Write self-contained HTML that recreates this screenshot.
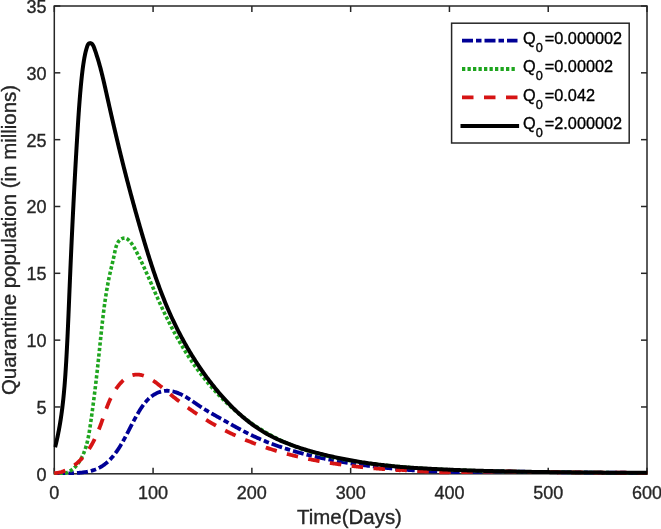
<!DOCTYPE html>
<html><head><meta charset="utf-8"><style>
html,body{margin:0;padding:0;background:#fff;}
svg{display:block;font-family:"Liberation Sans",sans-serif;will-change:transform;}
</style></head><body>
<svg width="661" height="529" viewBox="0 0 661 529">
<rect width="661" height="529" fill="#fff"/>
<clipPath id="clip"><rect x="53.55" y="0" width="594.2" height="475.05"/></clipPath>
<g stroke="#262626" stroke-width="1.5" fill="none">
<rect x="54.3" y="6.0" width="592.70" height="467.80"/>
<line x1="54.30" y1="473.8" x2="54.30" y2="467.8"/>
<line x1="54.30" y1="6.0" x2="54.30" y2="12.0"/>
<line x1="153.08" y1="473.8" x2="153.08" y2="467.8"/>
<line x1="153.08" y1="6.0" x2="153.08" y2="12.0"/>
<line x1="251.87" y1="473.8" x2="251.87" y2="467.8"/>
<line x1="251.87" y1="6.0" x2="251.87" y2="12.0"/>
<line x1="350.65" y1="473.8" x2="350.65" y2="467.8"/>
<line x1="350.65" y1="6.0" x2="350.65" y2="12.0"/>
<line x1="449.43" y1="473.8" x2="449.43" y2="467.8"/>
<line x1="449.43" y1="6.0" x2="449.43" y2="12.0"/>
<line x1="548.22" y1="473.8" x2="548.22" y2="467.8"/>
<line x1="548.22" y1="6.0" x2="548.22" y2="12.0"/>
<line x1="647.00" y1="473.8" x2="647.00" y2="467.8"/>
<line x1="647.00" y1="6.0" x2="647.00" y2="12.0"/>
<line x1="54.3" y1="473.80" x2="60.3" y2="473.80"/>
<line x1="647.0" y1="473.80" x2="641.0" y2="473.80"/>
<line x1="54.3" y1="406.97" x2="60.3" y2="406.97"/>
<line x1="647.0" y1="406.97" x2="641.0" y2="406.97"/>
<line x1="54.3" y1="340.14" x2="60.3" y2="340.14"/>
<line x1="647.0" y1="340.14" x2="641.0" y2="340.14"/>
<line x1="54.3" y1="273.31" x2="60.3" y2="273.31"/>
<line x1="647.0" y1="273.31" x2="641.0" y2="273.31"/>
<line x1="54.3" y1="206.49" x2="60.3" y2="206.49"/>
<line x1="647.0" y1="206.49" x2="641.0" y2="206.49"/>
<line x1="54.3" y1="139.66" x2="60.3" y2="139.66"/>
<line x1="647.0" y1="139.66" x2="641.0" y2="139.66"/>
<line x1="54.3" y1="72.83" x2="60.3" y2="72.83"/>
<line x1="647.0" y1="72.83" x2="641.0" y2="72.83"/>
<line x1="54.3" y1="6.00" x2="60.3" y2="6.00"/>
<line x1="647.0" y1="6.00" x2="641.0" y2="6.00"/>
</g>
<g clip-path="url(#clip)">
<path d="M54.48,473.84 L55.11,473.79 L55.74,473.75 L56.39,473.71 L57.04,473.67 L57.70,473.64 L58.37,473.61 L59.05,473.58 L59.73,473.56 L60.41,473.53 L61.11,473.51 L61.81,473.49 L62.51,473.47 L63.22,473.46 L63.93,473.44 L64.65,473.42 L65.38,473.41 L66.10,473.39 L66.83,473.37 L67.57,473.35 L68.31,473.34 L69.05,473.32 L69.79,473.29 L70.54,473.27 L71.29,473.24 L72.04,473.22 L72.79,473.19 L73.54,473.15 L74.30,473.12 L75.05,473.08 L75.81,473.03 L76.56,472.99 L77.32,472.94 L78.07,472.88 L78.83,472.82 L79.58,472.75 L80.34,472.68 L81.09,472.60 L81.84,472.52 L82.59,472.43 L83.33,472.34 L84.08,472.24 L84.82,472.13 L85.55,472.01 L86.29,471.89 L87.02,471.76 L87.75,471.62 L88.47,471.47 L89.19,471.31 L89.90,471.15 L90.61,470.98 L91.32,470.79 L92.01,470.60 L92.71,470.40 L93.39,470.18 L94.07,469.96 L94.75,469.72 L95.41,469.48 L96.07,469.22 L96.73,468.95 L97.37,468.67 L98.01,468.38 L98.64,468.08 L99.26,467.76 L99.87,467.44 L100.48,467.10 L101.08,466.75 L101.67,466.39 L102.26,466.02 L102.83,465.64 L103.40,465.25 L103.97,464.85 L104.53,464.44 L105.08,464.02 L105.62,463.59 L106.16,463.16 L106.69,462.71 L107.22,462.26 L107.74,461.79 L108.25,461.32 L108.76,460.84 L109.26,460.35 L109.75,459.86 L110.24,459.35 L110.73,458.84 L111.21,458.32 L111.68,457.80 L112.15,457.27 L112.61,456.73 L113.07,456.19 L113.52,455.64 L113.97,455.08 L114.41,454.52 L114.85,453.95 L115.28,453.38 L115.71,452.80 L116.13,452.22 L116.55,451.63 L116.97,451.04 L117.38,450.44 L117.78,449.84 L118.19,449.23 L118.59,448.63 L118.98,448.01 L119.37,447.40 L119.76,446.78 L120.14,446.16 L120.53,445.54 L120.90,444.91 L121.28,444.28 L121.65,443.65 L122.02,443.02 L122.38,442.38 L122.74,441.75 L123.10,441.11 L123.46,440.47 L123.81,439.83 L124.16,439.19 L124.51,438.55 L124.86,437.91 L125.20,437.26 L125.54,436.62 L125.88,435.98 L126.22,435.34 L126.56,434.70 L126.89,434.06 L127.22,433.42 L127.55,432.79 L127.88,432.15 L128.21,431.52 L128.54,430.88 L128.86,430.25 L129.19,429.62 L129.52,428.99 L129.84,428.36 L130.16,427.73 L130.49,427.10 L130.81,426.47 L131.14,425.84 L131.46,425.22 L131.79,424.59 L132.11,423.96 L132.44,423.34 L132.77,422.71 L133.10,422.09 L133.43,421.46 L133.77,420.83 L134.10,420.21 L134.44,419.58 L134.78,418.95 L135.12,418.33 L135.46,417.70 L135.81,417.07 L136.16,416.44 L136.52,415.81 L136.87,415.18 L137.23,414.55 L137.60,413.92 L137.96,413.28 L138.34,412.65 L138.71,412.01 L139.09,411.38 L139.48,410.75 L139.87,410.11 L140.26,409.48 L140.66,408.85 L141.07,408.22 L141.48,407.60 L141.90,406.98 L142.32,406.36 L142.75,405.75 L143.19,405.14 L143.63,404.54 L144.08,403.95 L144.54,403.36 L145.01,402.78 L145.48,402.21 L145.96,401.64 L146.45,401.09 L146.95,400.54 L147.45,400.00 L147.97,399.48 L148.49,398.96 L149.03,398.46 L149.57,397.96 L150.12,397.48 L150.68,397.02 L151.25,396.56 L151.83,396.12 L152.43,395.70 L153.03,395.29 L153.64,394.89 L154.25,394.51 L154.88,394.14 L155.51,393.80 L156.15,393.46 L156.80,393.15 L157.45,392.85 L158.11,392.57 L158.78,392.31 L159.45,392.07 L160.13,391.85 L160.81,391.64 L161.49,391.46 L162.18,391.30 L162.87,391.16 L163.57,391.03 L164.27,390.94 L164.97,390.86 L165.67,390.80 L166.37,390.77 L167.08,390.76 L167.78,390.77 L168.49,390.81 L169.20,390.86 L169.90,390.93 L170.61,391.03 L171.31,391.14 L172.01,391.27 L172.71,391.41 L173.40,391.58 L174.10,391.75 L174.79,391.95 L175.47,392.16 L176.15,392.38 L176.83,392.61 L177.51,392.86 L178.19,393.13 L178.86,393.40 L179.52,393.69 L180.19,393.99 L180.85,394.29 L181.51,394.61 L182.17,394.94 L182.82,395.28 L183.48,395.63 L184.13,395.98 L184.77,396.35 L185.42,396.72 L186.06,397.10 L186.70,397.48 L187.34,397.87 L187.98,398.27 L188.62,398.67 L189.25,399.08 L189.88,399.49 L190.51,399.90 L191.14,400.32 L191.77,400.74 L192.39,401.16 L193.01,401.59 L193.64,402.01 L194.26,402.44 L194.88,402.87 L195.50,403.30 L196.11,403.72 L196.73,404.15 L197.34,404.57 L197.96,404.99 L198.57,405.41 L199.19,405.83 L199.80,406.24 L200.41,406.65 L201.02,407.05 L201.63,407.45 L202.24,407.85 L202.85,408.24 L203.46,408.62 L204.07,409.01 L204.68,409.38 L205.28,409.75 L205.89,410.12 L206.50,410.49 L207.11,410.85 L207.72,411.21 L208.32,411.57 L208.93,411.92 L209.54,412.27 L210.15,412.62 L210.75,412.97 L211.36,413.32 L211.97,413.66 L212.58,414.00 L213.19,414.35 L213.80,414.69 L214.41,415.03 L215.02,415.37 L215.63,415.71 L216.24,416.05 L216.85,416.39 L217.46,416.73 L218.07,417.07 L218.69,417.41 L219.30,417.75 L219.92,418.09 L220.53,418.44 L221.15,418.78 L221.77,419.13 L222.38,419.48 L223.00,419.83 L223.62,420.18 L224.24,420.53 L224.86,420.88 L225.48,421.23 L226.11,421.58 L226.73,421.93 L227.35,422.29 L227.98,422.64 L228.61,422.99 L229.23,423.35 L229.86,423.70 L230.49,424.05 L231.11,424.41 L231.74,424.76 L232.37,425.11 L233.01,425.47 L233.64,425.82 L234.27,426.17 L234.90,426.52 L235.54,426.87 L236.17,427.22 L236.81,427.57 L237.44,427.92 L238.08,428.27 L238.72,428.61 L239.36,428.96 L240.00,429.30 L240.64,429.65 L241.28,429.99 L241.92,430.33 L242.56,430.67 L243.21,431.01 L243.85,431.35 L244.50,431.68 L245.14,432.01 L245.79,432.35 L246.44,432.68 L247.09,433.00 L247.73,433.33 L248.38,433.66 L249.04,433.98 L249.69,434.30 L250.34,434.62 L250.99,434.93 L251.65,435.24 L252.30,435.56 L252.96,435.87 L253.61,436.17 L254.27,436.48 L254.93,436.78 L255.59,437.08 L256.25,437.38 L256.91,437.68 L257.57,437.98 L258.23,438.27 L258.89,438.56 L259.55,438.85 L260.22,439.14 L260.88,439.43 L261.55,439.71 L262.21,439.99 L262.88,440.27 L263.55,440.55 L264.21,440.82 L264.88,441.10 L265.55,441.37 L266.22,441.64 L266.89,441.91 L267.56,442.18 L268.23,442.44 L268.91,442.71 L269.58,442.97 L270.25,443.23 L270.93,443.48 L271.60,443.74 L272.28,443.99 L272.96,444.25 L273.63,444.50 L274.31,444.75 L274.99,444.99 L275.67,445.24 L276.35,445.48 L277.03,445.72 L277.71,445.96 L278.39,446.20 L279.07,446.44 L279.75,446.67 L280.43,446.91 L281.12,447.14 L281.80,447.37 L282.49,447.60 L283.17,447.82 L283.86,448.05 L284.54,448.27 L285.23,448.49 L285.92,448.71 L286.60,448.93 L287.29,449.15 L287.98,449.36 L288.67,449.58 L289.36,449.79 L290.05,450.00 L290.74,450.21 L291.43,450.42 L292.12,450.63 L292.81,450.83 L293.51,451.03 L294.20,451.23 L294.89,451.43 L295.59,451.63 L296.28,451.83 L296.98,452.03 L297.67,452.22 L298.37,452.41 L299.06,452.61 L299.76,452.80 L300.46,452.98 L301.15,453.17 L301.85,453.36 L302.55,453.54 L303.25,453.72 L303.94,453.91 L304.64,454.09 L305.34,454.27 L306.04,454.44 L306.74,454.62 L307.44,454.79 L308.14,454.97 L308.85,455.14 L309.55,455.31 L310.25,455.48 L310.95,455.65 L311.65,455.82 L312.36,455.98 L313.06,456.15 L313.76,456.31 L314.47,456.47 L315.17,456.64 L315.88,456.80 L316.58,456.95 L317.29,457.11 L317.99,457.27 L318.70,457.42 L319.40,457.58 L320.11,457.73 L320.81,457.88 L321.52,458.03 L322.23,458.18 L322.94,458.33 L323.64,458.48 L324.35,458.62 L325.06,458.77 L325.77,458.91 L326.47,459.05 L327.18,459.20 L327.89,459.34 L328.60,459.48 L329.31,459.62 L330.02,459.75 L330.73,459.89 L331.44,460.02 L332.15,460.16 L332.86,460.29 L333.57,460.43 L334.28,460.56 L334.99,460.69 L335.70,460.82 L336.41,460.95 L337.12,461.07 L337.83,461.20 L338.54,461.33 L339.25,461.45 L339.96,461.58 L340.67,461.70 L341.39,461.82 L342.10,461.94 L342.81,462.06 L343.52,462.18 L344.23,462.30 L344.94,462.42 L345.66,462.54 L346.37,462.65 L347.08,462.77 L347.79,462.88 L348.50,463.00 L349.22,463.11 L349.93,463.22 L350.64,463.34 L351.35,463.45 L352.07,463.56 L352.78,463.66 L353.49,463.77 L354.21,463.88 L354.92,463.99 L355.63,464.09 L356.35,464.20 L357.06,464.30 L357.77,464.40 L358.49,464.51 L359.20,464.61 L359.91,464.71 L360.63,464.81 L361.34,464.91 L362.06,465.01 L362.77,465.10 L363.48,465.20 L364.20,465.30 L364.91,465.39 L365.63,465.49 L366.34,465.58 L367.06,465.68 L367.77,465.77 L368.48,465.86 L369.20,465.95 L369.91,466.04 L370.63,466.13 L371.34,466.22 L372.06,466.31 L372.77,466.39 L373.49,466.48 L374.20,466.57 L374.92,466.65 L375.64,466.73 L376.35,466.82 L377.07,466.90 L377.78,466.98 L378.50,467.06 L379.21,467.15 L379.93,467.23 L380.65,467.30 L381.36,467.38 L382.08,467.46 L382.79,467.54 L383.51,467.62 L384.23,467.69 L384.94,467.77 L385.66,467.84 L386.37,467.91 L387.09,467.99 L387.81,468.06 L388.52,468.13 L389.24,468.20 L389.96,468.27 L390.68,468.35 L391.39,468.43 L392.11,468.52 L392.83,468.61 L393.54,468.69 L394.26,468.77 L394.98,468.85 L395.70,468.93 L396.41,469.01 L397.13,469.09 L397.85,469.17 L398.57,469.24 L399.28,469.31 L400.00,469.39 L400.72,469.45 L401.44,469.51 L402.15,469.56 L402.87,469.61 L403.59,469.67 L404.31,469.72 L405.03,469.77 L405.74,469.82 L406.46,469.87 L407.18,469.92 L407.90,469.97 L408.62,470.01 L409.34,470.06 L410.05,470.11 L410.77,470.15 L411.49,470.20 L412.21,470.24 L412.93,470.29 L413.65,470.33 L414.37,470.37 L415.09,470.41 L415.81,470.45 L416.52,470.50 L417.24,470.54 L417.96,470.57 L418.68,470.61 L419.40,470.65 L420.12,470.69 L420.84,470.73 L421.56,470.76 L422.28,470.80 L423.00,470.84 L423.72,470.87 L424.44,470.91 L425.16,470.94 L425.88,470.97 L426.60,471.01 L427.32,471.04 L428.04,471.07 L428.76,471.10 L429.48,471.14 L430.20,471.17 L430.92,471.20 L431.64,471.23 L432.36,471.26 L433.08,471.29 L433.80,471.31 L434.52,471.34 L435.24,471.37 L435.96,471.40 L436.68,471.43 L437.40,471.45 L438.12,471.48 L438.84,471.50 L439.56,471.53 L440.28,471.56 L441.00,471.58 L441.72,471.61 L442.44,471.63 L443.16,471.65 L443.88,471.68 L444.61,471.70 L445.33,471.72 L446.05,471.75 L446.77,471.77 L447.49,471.79 L448.21,471.81 L448.93,471.83 L449.65,471.85 L450.37,471.87 L451.09,471.90 L451.82,471.92 L452.54,471.94 L453.26,471.95 L453.98,471.97 L454.70,471.99 L455.42,472.01 L456.14,472.03 L456.87,472.05 L457.59,472.07 L458.31,472.08 L459.03,472.10 L459.75,472.11 L460.47,472.10 L461.20,472.09 L461.92,472.08 L462.64,472.07 L463.36,472.06 L464.08,472.05 L464.80,472.04 L465.53,472.03 L466.25,472.02 L466.97,472.00 L467.69,471.99 L468.41,471.98 L469.14,471.97 L469.86,471.96 L470.58,471.94 L471.30,471.93 L472.02,471.92 L472.75,471.90 L473.47,471.89 L474.19,471.88 L474.91,471.86 L475.64,471.85 L476.36,471.84 L477.08,471.82 L477.80,471.81 L478.52,471.79 L479.25,471.78 L479.97,471.76 L480.69,471.75 L481.41,471.73 L482.14,471.72 L482.86,471.70 L483.58,471.68 L484.30,471.67 L485.03,471.65 L485.75,471.64 L486.47,471.62 L487.19,471.60 L487.92,471.58 L488.64,471.57 L489.36,471.55 L490.08,471.53 L490.81,471.52 L491.53,471.50 L492.25,471.48 L492.98,471.46 L493.70,471.44 L494.42,471.42 L495.14,471.41 L495.87,471.39 L496.59,471.37 L497.31,471.35 L498.03,471.33 L498.76,471.31 L499.48,471.29 L500.20,471.28 L500.93,471.30 L501.65,471.32 L502.37,471.33 L503.10,471.35 L503.82,471.36 L504.54,471.38 L505.26,471.39 L505.99,471.41 L506.71,471.43 L507.43,471.44 L508.16,471.46 L508.88,471.47 L509.60,471.49 L510.32,471.50 L511.05,471.51 L511.77,471.53 L512.49,471.54 L513.22,471.56 L513.94,471.57 L514.66,471.59 L515.39,471.60 L516.11,471.61 L516.83,471.63 L517.55,471.64 L518.28,471.65 L519.00,471.67 L519.72,471.68 L520.45,471.69 L521.17,471.71 L521.89,471.72 L522.62,471.73 L523.34,471.74 L524.06,471.76 L524.79,471.77 L525.51,471.78 L526.23,471.79 L526.95,471.81 L527.68,471.82 L528.40,471.83 L529.12,471.84 L529.85,471.85 L530.57,471.86 L531.29,471.88 L532.02,471.89 L532.74,471.90 L533.46,471.91 L534.19,471.92 L534.91,471.93 L535.63,471.94 L536.35,471.95 L537.08,471.96 L537.80,471.97 L538.52,471.98 L539.25,472.00 L539.97,472.01 L540.69,472.02 L541.42,472.03 L542.14,472.04 L542.86,472.05 L543.58,472.06 L544.31,472.07 L545.03,472.08 L545.75,472.08 L546.48,472.09 L547.20,472.10 L547.92,472.11 L548.64,472.12 L549.37,472.13 L550.09,472.14 L550.81,472.15 L551.54,472.16 L552.26,472.17 L552.98,472.18 L553.70,472.19 L554.43,472.19 L555.15,472.20 L555.87,472.21 L556.60,472.22 L557.32,472.23 L558.04,472.24 L558.76,472.24 L559.49,472.25 L560.21,472.26 L560.93,472.27 L561.65,472.28 L562.38,472.28 L563.10,472.29 L563.82,472.30 L564.54,472.31 L565.27,472.32 L565.99,472.32 L566.71,472.33 L567.43,472.34 L568.16,472.35 L568.88,472.35 L569.60,472.36 L570.32,472.37 L571.05,472.37 L571.77,472.38 L572.49,472.39 L573.21,472.40 L573.94,472.40 L574.66,472.41 L575.38,472.42 L576.10,472.42 L576.82,472.43 L577.55,472.44 L578.27,472.44 L578.99,472.45 L579.71,472.46 L580.43,472.46 L581.16,472.47 L581.88,472.47 L582.60,472.48 L583.32,472.49 L584.04,472.49 L584.77,472.50 L585.49,472.50 L586.21,472.51 L586.93,472.52 L587.65,472.52 L588.37,472.53 L589.10,472.53 L589.82,472.54 L590.54,472.55 L591.26,472.55 L591.98,472.56 L592.70,472.56 L593.43,472.57 L594.15,472.57 L594.87,472.58 L595.59,472.58 L596.31,472.59 L597.03,472.59 L597.75,472.60 L598.47,472.60 L599.20,472.61 L599.92,472.61 L600.64,472.62 L601.36,472.62 L602.08,472.63 L602.80,472.63 L603.52,472.64 L604.24,472.64 L604.96,472.65 L605.68,472.65 L606.41,472.66 L607.13,472.66 L607.85,472.67 L608.57,472.67 L609.29,472.68 L610.01,472.68 L610.73,472.69 L611.45,472.69 L612.17,472.69 L612.89,472.70 L613.61,472.70 L614.33,472.71 L615.05,472.71 L615.77,472.72 L616.49,472.72 L617.21,472.72 L617.93,472.73 L618.65,472.73 L619.37,472.74 L620.09,472.74 L620.81,472.74 L621.53,472.75 L622.25,472.75 L622.97,472.76 L623.69,472.76 L624.41,472.76 L625.13,472.77 L625.85,472.77 L626.57,472.77 L627.29,472.78 L628.01,472.78 L628.73,472.78 L629.45,472.79 L630.17,472.79 L630.89,472.80 L631.60,472.80 L632.32,472.80 L633.04,472.81 L633.76,472.81 L634.48,472.81 L635.20,472.82 L635.92,472.82 L636.64,472.82 L637.36,472.83 L638.07,472.83 L638.79,472.83 L639.51,472.83 L640.23,472.84 L640.95,472.84 L641.67,472.84 L642.39,472.85 L643.10,472.85 L643.82,472.85 L644.54,472.86 L645.26,472.86 L645.98,472.86 L646.69,472.86 L647.41,472.87" fill="none" stroke="#000096" stroke-width="3.8" stroke-dasharray="11 3 5.5 3" stroke-linecap="butt" stroke-linejoin="round"/>
<path d="M53.98,473.55 L55.15,473.77 L56.30,473.94 L57.42,474.05 L58.52,474.11 L59.60,474.12 L60.65,474.07 L61.68,473.98 L62.68,473.83 L63.67,473.64 L64.63,473.41 L65.56,473.13 L66.48,472.81 L67.37,472.45 L68.24,472.05 L69.09,471.61 L69.92,471.13 L70.73,470.62 L71.52,470.08 L72.28,469.51 L73.03,468.90 L73.75,468.27 L74.45,467.61 L75.14,466.92 L75.80,466.21 L76.45,465.47 L77.07,464.72 L77.68,463.94 L78.26,463.15 L78.83,462.34 L79.38,461.52 L79.91,460.68 L80.43,459.82 L80.92,458.96 L81.40,458.09 L81.86,457.21 L82.30,456.32 L82.73,455.42 L83.13,454.52 L83.53,453.61 L83.91,452.70 L84.27,451.78 L84.62,450.85 L84.95,449.92 L85.28,448.98 L85.58,448.04 L85.88,447.09 L86.17,446.14 L86.44,445.18 L86.70,444.22 L86.95,443.25 L87.20,442.28 L87.43,441.31 L87.65,440.34 L87.87,439.36 L88.07,438.38 L88.27,437.39 L88.47,436.41 L88.65,435.42 L88.83,434.43 L89.00,433.44 L89.17,432.45 L89.34,431.45 L89.50,430.46 L89.65,429.46 L89.81,428.47 L89.96,427.47 L90.11,426.48 L90.25,425.49 L90.40,424.49 L90.54,423.50 L90.69,422.51 L90.83,421.52 L90.97,420.52 L91.11,419.54 L91.25,418.55 L91.39,417.56 L91.53,416.57 L91.67,415.58 L91.80,414.60 L91.94,413.61 L92.07,412.63 L92.21,411.64 L92.34,410.66 L92.47,409.67 L92.61,408.69 L92.74,407.71 L92.87,406.73 L93.00,405.75 L93.13,404.76 L93.26,403.78 L93.38,402.80 L93.51,401.82 L93.64,400.84 L93.76,399.86 L93.89,398.89 L94.01,397.91 L94.13,396.93 L94.26,395.95 L94.38,394.97 L94.50,393.99 L94.62,393.01 L94.74,392.04 L94.86,391.06 L94.98,390.08 L95.10,389.10 L95.22,388.12 L95.34,387.15 L95.45,386.17 L95.57,385.19 L95.69,384.21 L95.80,383.23 L95.92,382.26 L96.03,381.28 L96.14,380.30 L96.26,379.32 L96.37,378.34 L96.48,377.36 L96.60,376.38 L96.71,375.40 L96.82,374.42 L96.93,373.44 L97.04,372.46 L97.15,371.48 L97.26,370.49 L97.37,369.51 L97.47,368.53 L97.58,367.54 L97.69,366.56 L97.80,365.58 L97.90,364.59 L98.01,363.60 L98.12,362.62 L98.22,361.63 L98.33,360.64 L98.43,359.65 L98.54,358.67 L98.64,357.68 L98.75,356.68 L98.85,355.69 L98.95,354.70 L99.06,353.71 L99.16,352.71 L99.26,351.72 L99.36,350.72 L99.47,349.73 L99.57,348.73 L99.67,347.73 L99.77,346.73 L99.88,345.73 L99.98,344.74 L100.08,343.73 L100.18,342.73 L100.29,341.73 L100.39,340.73 L100.49,339.73 L100.59,338.73 L100.70,337.73 L100.80,336.72 L100.91,335.72 L101.01,334.72 L101.12,333.72 L101.22,332.71 L101.33,331.71 L101.43,330.71 L101.54,329.70 L101.65,328.70 L101.76,327.70 L101.87,326.70 L101.98,325.69 L102.09,324.69 L102.20,323.69 L102.31,322.69 L102.43,321.69 L102.54,320.69 L102.65,319.69 L102.77,318.69 L102.89,317.69 L103.01,316.69 L103.13,315.69 L103.25,314.70 L103.37,313.70 L103.49,312.70 L103.62,311.71 L103.74,310.72 L103.87,309.72 L104.00,308.73 L104.13,307.74 L104.26,306.75 L104.39,305.76 L104.52,304.77 L104.66,303.78 L104.80,302.80 L104.94,301.81 L105.08,300.83 L105.22,299.85 L105.36,298.87 L105.51,297.89 L105.66,296.91 L105.81,295.93 L105.96,294.96 L106.11,293.98 L106.27,293.01 L106.43,292.04 L106.59,291.07 L106.75,290.11 L106.91,289.14 L107.08,288.18 L107.25,287.21 L107.42,286.25 L107.59,285.30 L107.77,284.34 L107.94,283.39 L108.12,282.43 L108.31,281.48 L108.49,280.54 L108.68,279.59 L108.87,278.65 L109.06,277.70 L109.26,276.76 L109.45,275.83 L109.65,274.89 L109.86,273.96 L110.06,273.03 L110.27,272.10 L110.48,271.18 L110.70,270.25 L110.91,269.33 L111.13,268.40 L111.35,267.48 L111.57,266.55 L111.79,265.61 L112.02,264.67 L112.24,263.73 L112.47,262.78 L112.69,261.82 L112.92,260.85 L113.14,259.87 L113.36,258.87 L113.58,257.87 L113.80,256.85 L114.02,255.82 L114.24,254.78 L114.46,253.71 L114.67,252.63 L114.89,251.55 L115.12,250.46 L115.37,249.38 L115.63,248.31 L115.91,247.26 L116.23,246.23 L116.57,245.24 L116.95,244.28 L117.38,243.36 L117.85,242.49 L118.37,241.68 L118.95,240.93 L119.58,240.24 L120.28,239.63 L121.05,239.11 L121.89,238.67 L122.78,238.35 L123.69,238.15 L124.61,238.10 L125.52,238.22 L126.40,238.52 L127.24,238.98 L128.05,239.57 L128.82,240.26 L129.56,241.03 L130.26,241.83 L130.92,242.66 L131.55,243.49 L132.15,244.33 L132.72,245.18 L133.27,246.04 L133.79,246.91 L134.30,247.78 L134.79,248.65 L135.27,249.53 L135.74,250.42 L136.21,251.30 L136.67,252.19 L137.12,253.07 L137.58,253.96 L138.03,254.85 L138.48,255.74 L138.92,256.63 L139.36,257.52 L139.80,258.41 L140.23,259.30 L140.66,260.20 L141.09,261.09 L141.52,261.99 L141.95,262.88 L142.37,263.78 L142.79,264.68 L143.21,265.57 L143.62,266.47 L144.03,267.37 L144.45,268.27 L144.86,269.17 L145.26,270.07 L145.67,270.98 L146.08,271.88 L146.48,272.78 L146.88,273.68 L147.28,274.59 L147.68,275.49 L148.08,276.40 L148.48,277.30 L148.88,278.21 L149.27,279.11 L149.67,280.02 L150.06,280.92 L150.46,281.83 L150.85,282.73 L151.25,283.64 L151.64,284.55 L152.03,285.45 L152.43,286.36 L152.82,287.27 L153.22,288.17 L153.61,289.08 L154.00,289.99 L154.40,290.89 L154.79,291.80 L155.19,292.70 L155.59,293.61 L155.99,294.52 L156.38,295.42 L156.78,296.33 L157.19,297.23 L157.59,298.14 L157.99,299.04 L158.40,299.95 L158.80,300.85 L159.21,301.75 L159.62,302.66 L160.03,303.56 L160.44,304.46 L160.86,305.36 L161.27,306.26 L161.69,307.16 L162.11,308.06 L162.53,308.96 L162.95,309.86 L163.38,310.76 L163.80,311.66 L164.23,312.56 L164.66,313.45 L165.09,314.35 L165.52,315.24 L165.96,316.14 L166.39,317.03 L166.83,317.92 L167.27,318.81 L167.72,319.70 L168.16,320.59 L168.61,321.48 L169.05,322.37 L169.50,323.26 L169.95,324.15 L170.41,325.03 L170.86,325.92 L171.32,326.80 L171.78,327.68 L172.24,328.56 L172.71,329.44 L173.17,330.32 L173.64,331.20 L174.11,332.08 L174.59,332.95 L175.06,333.83 L175.54,334.70 L176.02,335.57 L176.50,336.44 L176.98,337.31 L177.47,338.18 L177.96,339.05 L178.45,339.91 L178.94,340.78 L179.44,341.64 L179.93,342.50 L180.43,343.36 L180.94,344.22 L181.44,345.08 L181.95,345.93 L182.46,346.79 L182.97,347.64 L183.48,348.49 L184.00,349.34 L184.52,350.19 L185.04,351.04 L185.57,351.88 L186.10,352.72 L186.63,353.56 L187.16,354.40 L187.70,355.24 L188.23,356.08 L188.77,356.91 L189.32,357.74 L189.86,358.57 L190.41,359.40 L190.96,360.23 L191.52,361.05 L192.08,361.88 L192.64,362.70 L193.20,363.52 L193.77,364.34 L194.33,365.15 L194.91,365.96 L195.48,366.77 L196.06,367.58 L196.64,368.39 L197.22,369.20 L197.81,370.00 L198.40,370.80 L198.99,371.60 L199.58,372.39 L200.18,373.19 L200.78,373.98 L201.39,374.77 L202.00,375.55 L202.61,376.34 L203.22,377.12 L203.84,377.90 L204.46,378.68 L205.08,379.46 L205.71,380.23 L206.34,381.00 L206.97,381.77 L207.61,382.53 L208.25,383.30 L208.89,384.06 L209.54,384.81 L210.19,385.57 L210.84,386.32 L211.49,387.07 L212.15,387.82 L212.81,388.56 L213.48,389.31 L214.15,390.05 L214.82,390.78 L215.49,391.52 L216.17,392.25 L216.85,392.98 L217.53,393.70 L218.22,394.42 L218.91,395.14 L219.60,395.86 L220.29,396.57 L220.99,397.28 L221.69,397.99 L222.40,398.70 L223.10,399.40 L223.81,400.10 L224.53,400.79 L225.24,401.49 L225.96,402.18 L226.68,402.86 L227.41,403.55 L228.14,404.23 L228.87,404.90 L229.60,405.58 L230.34,406.25 L231.07,406.91 L231.82,407.58 L232.56,408.24 L233.31,408.90 L234.06,409.55 L234.81,410.20 L235.57,410.85 L236.33,411.49 L237.09,412.13 L237.85,412.77 L238.62,413.40 L239.39,414.03 L240.16,414.66 L240.93,415.28 L241.71,415.90 L242.49,416.51 L243.27,417.13 L244.06,417.73 L244.85,418.34 L245.64,418.94 L246.43,419.53 L247.23,420.13 L248.03,420.72 L248.83,421.30 L249.63,421.88 L250.44,422.46 L251.25,423.04 L252.06,423.61 L252.87,424.17 L253.69,424.73 L254.51,425.29 L255.33,425.85 L256.15,426.40 L256.98,426.94 L257.81,427.49 L258.64,428.02 L259.47,428.56 L260.31,429.09 L261.15,429.61 L261.99,430.13 L262.83,430.65 L263.68,431.17 L264.53,431.67 L265.38,432.18 L266.23,432.68 L267.09,433.17 L267.94,433.67 L268.80,434.15 L269.67,434.64 L270.53,435.12 L271.40,435.59 L272.27,436.06 L273.14,436.52 L274.01,436.98 L274.89,437.44 L275.77,437.89 L276.65,438.34 L277.53,438.78 L278.41,439.22 L279.30,439.65 L280.19,440.08 L281.08,440.51 L281.98,440.92 L282.87,441.34 L283.77,441.75 L284.67,442.15 L285.57,442.55 L286.48,442.95 L287.38,443.34 L288.29,443.73 L289.20,444.11 L290.11,444.49 L291.03,444.86 L291.95,445.23 L292.86,445.59 L293.78,445.95 L294.71,446.31 L295.63,446.66 L296.55,447.01 L297.48,447.35 L298.41,447.69 L299.34,448.02 L300.27,448.35 L301.21,448.68 L302.15,449.00 L303.08,449.32 L304.02,449.63 L304.96,449.94 L305.91,450.25 L306.85,450.55 L307.79,450.85 L308.74,451.14 L309.69,451.43 L310.64,451.72 L311.59,452.01 L312.54,452.29 L313.50,452.56 L314.45,452.83 L315.41,453.10 L316.37,453.37 L317.33,453.63 L318.29,453.89 L319.25,454.15 L320.21,454.40 L321.18,454.65 L322.14,454.89 L323.11,455.13 L324.08,455.37 L325.05,455.61 L326.02,455.84 L326.99,456.07 L327.96,456.29 L328.93,456.52 L329.91,456.74 L330.88,456.95 L331.86,457.17 L332.84,457.38 L333.81,457.59 L334.79,457.79 L335.77,458.00 L336.75,458.20 L337.73,458.39 L338.72,458.59 L339.70,458.78 L340.68,458.97 L341.66,459.15 L342.65,459.34 L343.63,459.52 L344.62,459.70 L345.61,459.87 L346.59,460.05 L347.58,460.22 L348.57,460.39 L349.56,460.55 L350.55,460.72 L351.54,460.88 L352.53,461.04 L353.52,461.20 L354.51,461.35 L355.50,461.51 L356.49,461.66 L357.48,461.81 L358.48,461.96 L359.47,462.10 L360.46,462.25 L361.45,462.39 L362.45,462.53 L363.44,462.66 L364.43,462.80 L365.43,462.93 L366.42,463.07 L367.41,463.20 L368.41,463.33 L369.40,463.45 L370.39,463.58 L371.39,463.71 L372.38,463.83 L373.38,463.95 L374.37,464.07 L375.36,464.19 L376.36,464.31 L377.35,464.42 L378.34,464.54 L379.33,464.65 L380.33,464.76 L381.32,464.87 L382.31,464.98 L383.31,465.09 L384.30,465.19 L385.29,465.30 L386.28,465.40 L387.27,465.50 L388.27,465.61 L389.26,465.71 L390.25,465.80 L391.24,465.90 L392.23,466.00 L393.22,466.09 L394.21,466.19 L395.21,466.28 L396.20,466.37 L397.19,466.46 L398.18,466.55 L399.17,466.64 L400.16,466.73 L401.15,466.81 L402.14,466.90 L403.13,466.98 L404.12,467.06 L405.11,467.14 L406.10,467.22 L407.09,467.30 L408.08,467.38 L409.08,467.46 L410.07,467.56 L411.06,467.65 L412.05,467.74 L413.04,467.83 L414.03,467.91 L415.02,467.99 L416.01,468.07 L417.00,468.15 L417.99,468.22 L418.98,468.29 L419.97,468.35 L420.96,468.41 L421.94,468.47 L422.93,468.52 L423.92,468.58 L424.91,468.63 L425.90,468.69 L426.89,468.74 L427.88,468.79 L428.87,468.85 L429.86,468.90 L430.85,468.95 L431.84,469.00 L432.83,469.05 L433.82,469.10 L434.81,469.15 L435.80,469.19 L436.79,469.24 L437.78,469.29 L438.77,469.33 L439.76,469.38 L440.75,469.43 L441.74,469.47 L442.73,469.51 L443.72,469.56 L444.71,469.60 L445.70,469.64 L446.69,469.69 L447.68,469.73 L448.67,469.77 L449.66,469.81 L450.65,469.85 L451.64,469.89 L452.63,469.93 L453.62,469.97 L454.61,470.01 L455.60,470.05 L456.59,470.08 L457.58,470.12 L458.57,470.16 L459.57,470.19 L460.56,470.23 L461.55,470.26 L462.54,470.30 L463.53,470.33 L464.52,470.37 L465.51,470.40 L466.50,470.44 L467.49,470.47 L468.49,470.50 L469.48,470.53 L470.47,470.57 L471.46,470.60 L472.45,470.63 L473.45,470.66 L474.44,470.69 L475.43,470.72 L476.42,470.75 L477.41,470.78 L478.41,470.81 L479.40,470.84 L480.39,470.86 L481.39,470.89 L482.38,470.92 L483.37,470.95 L484.36,470.97 L485.36,471.00 L486.35,471.03 L487.34,471.05 L488.34,471.08 L489.33,471.10 L490.32,471.13 L491.32,471.16 L492.31,471.18 L493.31,471.20 L494.30,471.23 L495.29,471.25 L496.29,471.28 L497.28,471.30 L498.28,471.32 L499.27,471.30 L500.27,471.28 L501.26,471.31 L502.25,471.33 L503.25,471.35 L504.24,471.37 L505.24,471.39 L506.23,471.42 L507.23,471.44 L508.22,471.46 L509.22,471.48 L510.21,471.50 L511.21,471.52 L512.20,471.54 L513.20,471.56 L514.19,471.58 L515.19,471.60 L516.18,471.61 L517.18,471.63 L518.17,471.65 L519.17,471.67 L520.17,471.69 L521.16,471.71 L522.16,471.72 L523.15,471.74 L524.15,471.76 L525.14,471.77 L526.14,471.79 L527.13,471.81 L528.13,471.82 L529.13,471.84 L530.12,471.86 L531.12,471.87 L532.11,471.89 L533.11,471.90 L534.11,471.92 L535.10,471.93 L536.10,471.95 L537.09,471.96 L538.09,471.98 L539.09,471.99 L540.08,472.01 L541.08,472.02 L542.07,472.03 L543.07,472.05 L544.07,472.06 L545.06,472.08 L546.06,472.09 L547.05,472.10 L548.05,472.11 L549.05,472.13 L550.04,472.14 L551.04,472.15 L552.03,472.17 L553.03,472.18 L554.03,472.19 L555.02,472.20 L556.02,472.21 L557.01,472.22 L558.01,472.24 L559.01,472.25 L560.00,472.26 L561.00,472.27 L561.99,472.28 L562.99,472.29 L563.99,472.30 L564.98,472.31 L565.98,472.32 L566.97,472.33 L567.97,472.34 L568.97,472.35 L569.96,472.36 L570.96,472.37 L571.95,472.38 L572.95,472.39 L573.94,472.40 L574.94,472.41 L575.94,472.42 L576.93,472.43 L577.93,472.44 L578.92,472.45 L579.92,472.46 L580.91,472.47 L581.91,472.47 L582.90,472.48 L583.90,472.49 L584.89,472.50 L585.89,472.51 L586.88,472.52 L587.88,472.52 L588.87,472.53 L589.87,472.54 L590.86,472.55 L591.86,472.56 L592.85,472.56 L593.85,472.57 L594.84,472.58 L595.84,472.59 L596.83,472.59 L597.83,472.60 L598.82,472.61 L599.82,472.61 L600.81,472.62 L601.80,472.63 L602.80,472.63 L603.79,472.64 L604.79,472.65 L605.78,472.65 L606.77,472.66 L607.77,472.67 L608.76,472.67 L609.75,472.68 L610.75,472.69 L611.74,472.69 L612.73,472.70 L613.73,472.70 L614.72,472.71 L615.71,472.71 L616.71,472.72 L617.70,472.73 L618.69,472.73 L619.68,472.74 L620.68,472.74 L621.67,472.75 L622.66,472.75 L623.65,472.76 L624.65,472.76 L625.64,472.77 L626.63,472.77 L627.62,472.78 L628.61,472.78 L629.61,472.79 L630.60,472.79 L631.59,472.80 L632.58,472.80 L633.57,472.81 L634.56,472.81 L635.55,472.82 L636.54,472.82 L637.53,472.83 L638.53,472.83 L639.52,472.83 L640.51,472.84 L641.50,472.84 L642.49,472.85 L643.48,472.85 L644.47,472.86 L645.46,472.86 L646.45,472.86 L647.43,472.87" fill="none" stroke="#1ea51e" stroke-width="3.6" stroke-dasharray="3.3 2.2" stroke-linecap="butt" stroke-linejoin="round"/>
<path d="M54.18,473.23 L54.97,473.16 L55.76,473.08 L56.54,472.98 L57.32,472.86 L58.08,472.73 L58.84,472.58 L59.59,472.42 L60.33,472.23 L61.07,472.04 L61.80,471.83 L62.52,471.60 L63.23,471.36 L63.93,471.10 L64.63,470.83 L65.32,470.55 L66.00,470.26 L66.68,469.95 L67.34,469.63 L68.00,469.30 L68.66,468.96 L69.30,468.60 L69.94,468.24 L70.57,467.86 L71.19,467.48 L71.81,467.08 L72.42,466.68 L73.02,466.26 L73.62,465.84 L74.21,465.41 L74.79,464.97 L75.36,464.53 L75.93,464.08 L76.49,463.62 L77.04,463.15 L77.59,462.67 L78.13,462.19 L78.66,461.70 L79.19,461.20 L79.71,460.70 L80.23,460.19 L80.73,459.67 L81.23,459.15 L81.73,458.62 L82.22,458.08 L82.70,457.54 L83.18,456.99 L83.65,456.44 L84.12,455.88 L84.58,455.31 L85.03,454.74 L85.48,454.17 L85.92,453.58 L86.36,453.00 L86.79,452.40 L87.22,451.81 L87.64,451.20 L88.05,450.60 L88.46,449.98 L88.87,449.37 L89.27,448.75 L89.66,448.12 L90.05,447.49 L90.44,446.85 L90.82,446.22 L91.20,445.57 L91.57,444.93 L91.93,444.28 L92.30,443.62 L92.65,442.97 L93.01,442.30 L93.36,441.64 L93.70,440.97 L94.04,440.30 L94.38,439.63 L94.71,438.95 L95.04,438.27 L95.36,437.59 L95.68,436.91 L96.00,436.22 L96.31,435.53 L96.62,434.84 L96.92,434.15 L97.22,433.45 L97.52,432.75 L97.82,432.05 L98.11,431.35 L98.40,430.65 L98.68,429.94 L98.96,429.24 L99.24,428.53 L99.52,427.82 L99.79,427.12 L100.06,426.41 L100.32,425.70 L100.59,424.98 L100.85,424.27 L101.11,423.56 L101.36,422.85 L101.62,422.13 L101.87,421.42 L102.12,420.71 L102.37,419.99 L102.62,419.28 L102.87,418.56 L103.12,417.85 L103.36,417.14 L103.61,416.42 L103.86,415.71 L104.10,415.00 L104.35,414.29 L104.60,413.58 L104.85,412.87 L105.10,412.16 L105.35,411.45 L105.60,410.74 L105.85,410.04 L106.11,409.33 L106.37,408.63 L106.63,407.93 L106.89,407.23 L107.16,406.53 L107.43,405.83 L107.70,405.14 L107.98,404.45 L108.26,403.76 L108.54,403.07 L108.83,402.38 L109.12,401.69 L109.42,401.01 L109.72,400.33 L110.02,399.65 L110.34,398.98 L110.65,398.31 L110.98,397.64 L111.30,396.97 L111.64,396.31 L111.98,395.64 L112.33,394.99 L112.68,394.33 L113.04,393.68 L113.41,393.03 L113.79,392.39 L114.17,391.75 L114.56,391.11 L114.96,390.48 L115.37,389.85 L115.79,389.22 L116.21,388.60 L116.65,387.98 L117.09,387.37 L117.54,386.76 L118.01,386.15 L118.48,385.55 L118.96,384.96 L119.45,384.37 L119.96,383.78 L120.47,383.20 L120.99,382.63 L121.53,382.07 L122.07,381.53 L122.62,380.99 L123.19,380.47 L123.77,379.96 L124.35,379.47 L124.95,379.00 L125.56,378.54 L126.17,378.11 L126.80,377.69 L127.44,377.30 L128.09,376.94 L128.75,376.59 L129.42,376.28 L130.10,375.98 L130.78,375.71 L131.47,375.47 L132.17,375.26 L132.87,375.07 L133.58,374.91 L134.29,374.78 L135.00,374.68 L135.71,374.61 L136.43,374.57 L137.14,374.56 L137.86,374.58 L138.57,374.62 L139.29,374.70 L140.00,374.80 L140.71,374.93 L141.42,375.08 L142.13,375.26 L142.84,375.46 L143.55,375.68 L144.25,375.92 L144.95,376.18 L145.65,376.46 L146.34,376.76 L147.04,377.08 L147.72,377.41 L148.41,377.76 L149.09,378.12 L149.77,378.50 L150.44,378.89 L151.10,379.29 L151.77,379.70 L152.42,380.12 L153.07,380.55 L153.72,380.99 L154.36,381.44 L154.99,381.89 L155.61,382.34 L156.23,382.80 L156.84,383.26 L157.45,383.73 L158.05,384.20 L158.64,384.67 L159.23,385.14 L159.81,385.61 L160.38,386.09 L160.96,386.56 L161.53,387.04 L162.10,387.52 L162.66,387.99 L163.23,388.47 L163.79,388.95 L164.36,389.43 L164.92,389.90 L165.49,390.38 L166.05,390.85 L166.62,391.33 L167.19,391.80 L167.76,392.27 L168.33,392.74 L168.90,393.21 L169.47,393.68 L170.05,394.14 L170.62,394.61 L171.20,395.08 L171.77,395.54 L172.35,396.00 L172.93,396.47 L173.51,396.93 L174.09,397.39 L174.67,397.85 L175.26,398.30 L175.84,398.76 L176.43,399.22 L177.01,399.67 L177.60,400.12 L178.19,400.58 L178.78,401.03 L179.37,401.48 L179.96,401.92 L180.56,402.37 L181.15,402.82 L181.75,403.26 L182.34,403.71 L182.94,404.15 L183.54,404.59 L184.14,405.03 L184.74,405.47 L185.34,405.91 L185.94,406.34 L186.54,406.78 L187.15,407.21 L187.75,407.64 L188.36,408.07 L188.97,408.50 L189.57,408.93 L190.18,409.36 L190.79,409.79 L191.40,410.21 L192.02,410.63 L192.63,411.05 L193.24,411.48 L193.86,411.89 L194.48,412.31 L195.09,412.73 L195.71,413.14 L196.33,413.56 L196.95,413.97 L197.57,414.38 L198.19,414.79 L198.82,415.19 L199.44,415.60 L200.07,416.00 L200.69,416.41 L201.32,416.81 L201.95,417.21 L202.58,417.61 L203.21,418.00 L203.84,418.40 L204.47,418.79 L205.10,419.19 L205.74,419.58 L206.37,419.97 L207.01,420.35 L207.64,420.74 L208.28,421.12 L208.92,421.51 L209.56,421.89 L210.20,422.27 L210.84,422.65 L211.48,423.02 L212.13,423.40 L212.77,423.77 L213.42,424.14 L214.06,424.51 L214.71,424.88 L215.36,425.24 L216.01,425.61 L216.66,425.97 L217.31,426.33 L217.96,426.69 L218.61,427.05 L219.26,427.41 L219.92,427.76 L220.57,428.11 L221.23,428.46 L221.89,428.81 L222.54,429.16 L223.20,429.50 L223.86,429.85 L224.52,430.19 L225.19,430.53 L225.85,430.87 L226.51,431.20 L227.17,431.54 L227.84,431.87 L228.51,432.20 L229.17,432.53 L229.84,432.86 L230.51,433.18 L231.18,433.50 L231.85,433.83 L232.52,434.14 L233.19,434.46 L233.86,434.78 L234.54,435.09 L235.21,435.40 L235.89,435.72 L236.56,436.02 L237.24,436.33 L237.92,436.64 L238.60,436.94 L239.27,437.24 L239.95,437.54 L240.63,437.84 L241.32,438.14 L242.00,438.43 L242.68,438.72 L243.37,439.01 L244.05,439.30 L244.73,439.59 L245.42,439.88 L246.11,440.16 L246.79,440.44 L247.48,440.72 L248.17,441.00 L248.86,441.28 L249.55,441.56 L250.24,441.83 L250.93,442.10 L251.63,442.37 L252.32,442.64 L253.01,442.91 L253.71,443.17 L254.40,443.44 L255.10,443.70 L255.79,443.96 L256.49,444.22 L257.19,444.48 L257.89,444.73 L258.59,444.99 L259.28,445.24 L259.98,445.49 L260.69,445.74 L261.39,445.99 L262.09,446.23 L262.79,446.48 L263.49,446.72 L264.20,446.96 L264.90,447.20 L265.61,447.44 L266.31,447.68 L267.02,447.91 L267.72,448.15 L268.43,448.38 L269.14,448.61 L269.85,448.84 L270.56,449.06 L271.26,449.29 L271.97,449.51 L272.68,449.74 L273.40,449.96 L274.11,450.18 L274.82,450.40 L275.53,450.61 L276.24,450.83 L276.96,451.04 L277.67,451.25 L278.38,451.46 L279.10,451.67 L279.81,451.88 L280.53,452.09 L281.25,452.29 L281.96,452.49 L282.68,452.70 L283.40,452.90 L284.11,453.10 L284.83,453.29 L285.55,453.49 L286.27,453.68 L286.99,453.88 L287.71,454.07 L288.43,454.26 L289.15,454.45 L289.87,454.64 L290.59,454.82 L291.31,455.01 L292.03,455.19 L292.76,455.37 L293.48,455.55 L294.20,455.73 L294.93,455.91 L295.65,456.09 L296.37,456.26 L297.10,456.44 L297.82,456.61 L298.55,456.78 L299.27,456.95 L300.00,457.12 L300.73,457.28 L301.45,457.45 L302.18,457.61 L302.91,457.78 L303.63,457.94 L304.36,458.10 L305.09,458.26 L305.82,458.42 L306.54,458.57 L307.27,458.73 L308.00,458.88 L308.73,459.04 L309.46,459.19 L310.19,459.34 L310.92,459.49 L311.65,459.63 L312.38,459.78 L313.11,459.93 L313.84,460.07 L314.57,460.21 L315.30,460.36 L316.03,460.50 L316.76,460.63 L317.49,460.77 L318.23,460.91 L318.96,461.05 L319.69,461.18 L320.42,461.31 L321.15,461.44 L321.89,461.58 L322.62,461.71 L323.35,461.83 L324.09,461.96 L324.82,462.09 L325.55,462.21 L326.29,462.34 L327.02,462.46 L327.75,462.58 L328.49,462.70 L329.22,462.82 L329.96,462.94 L330.69,463.06 L331.43,463.18 L332.16,463.29 L332.90,463.41 L333.63,463.52 L334.37,463.63 L335.11,463.74 L335.84,463.85 L336.58,463.96 L337.31,464.07 L338.05,464.18 L338.79,464.28 L339.52,464.39 L340.26,464.49 L341.00,464.59 L341.73,464.70 L342.47,464.80 L343.21,464.90 L343.95,465.00 L344.69,465.10 L345.42,465.19 L346.16,465.29 L346.90,465.38 L347.64,465.48 L348.38,465.57 L349.11,465.66 L349.85,465.76 L350.59,465.85 L351.33,465.94 L352.07,466.03 L352.81,466.11 L353.55,466.20 L354.29,466.29 L355.03,466.37 L355.77,466.46 L356.51,466.54 L357.25,466.62 L357.99,466.71 L358.73,466.79 L359.47,466.87 L360.21,466.95 L360.95,467.03 L361.69,467.10 L362.43,467.18 L363.17,467.26 L363.91,467.33 L364.65,467.41 L365.39,467.48 L366.14,467.56 L366.88,467.63 L367.62,467.70 L368.36,467.77 L369.10,467.84 L369.84,467.91 L370.59,467.98 L371.33,468.05 L372.07,468.12 L372.81,468.18 L373.55,468.25 L374.30,468.31 L375.04,468.38 L375.78,468.44 L376.52,468.51 L377.27,468.57 L378.01,468.63 L378.75,468.69 L379.49,468.75 L380.24,468.81 L380.98,468.87 L381.72,468.93 L382.46,468.99 L383.21,469.04 L383.95,469.10 L384.69,469.16 L385.44,469.21 L386.18,469.27 L386.92,469.32 L387.67,469.38 L388.41,469.43 L389.15,469.48 L389.90,469.53 L390.64,469.59 L391.38,469.64 L392.13,469.69 L392.87,469.74 L393.61,469.80 L394.36,469.85 L395.10,469.91 L395.85,469.97 L396.59,470.03 L397.33,470.09 L398.08,470.16 L398.82,470.22 L399.56,470.29 L400.31,469.85 L401.05,469.92 L401.80,469.98 L402.54,470.04 L403.28,470.11 L404.03,470.17 L404.77,470.23 L405.52,470.29 L406.26,470.35 L407.00,470.41 L407.75,470.46 L408.49,470.52 L409.24,470.58 L409.98,470.63 L410.72,470.68 L411.47,470.73 L412.21,470.78 L412.96,470.82 L413.70,470.87 L414.45,470.91 L415.19,470.95 L415.93,471.00 L416.68,471.04 L417.42,471.08 L418.17,471.11 L418.91,471.16 L419.65,471.20 L420.40,471.24 L421.14,471.29 L421.89,471.33 L422.63,471.37 L423.37,471.42 L424.12,471.46 L424.86,471.50 L425.61,471.54 L426.35,471.58 L427.09,471.62 L427.84,471.66 L428.58,471.70 L429.33,471.74 L430.07,471.78 L430.82,471.82 L431.56,471.86 L432.30,471.90 L433.05,471.94 L433.79,471.97 L434.54,472.01 L435.28,472.05 L436.03,472.08 L436.77,472.12 L437.51,472.16 L438.26,472.18 L439.00,472.21 L439.75,472.23 L440.49,472.25 L441.23,472.27 L441.98,472.27 L442.72,472.26 L443.47,472.26 L444.21,472.26 L444.96,472.25 L445.70,472.25 L446.44,472.24 L447.19,472.24 L447.93,472.23 L448.68,472.23 L449.42,472.22 L450.17,472.21 L450.91,472.21 L451.65,472.20 L452.40,472.19 L453.14,472.19 L453.89,472.18 L454.63,472.17 L455.38,472.16 L456.12,472.15 L456.86,472.15 L457.61,472.14 L458.35,472.13 L459.10,472.12 L459.84,472.11 L460.59,472.10 L461.33,472.09 L462.08,472.08 L462.82,472.07 L463.56,472.06 L464.31,472.05 L465.05,472.03 L465.80,472.02 L466.54,472.01 L467.29,472.00 L468.03,471.99 L468.77,471.97 L469.52,471.96 L470.26,471.95 L471.01,471.94 L471.75,471.92 L472.50,471.91 L473.24,471.89 L473.99,471.88 L474.73,471.87 L475.47,471.85 L476.22,471.84 L476.96,471.82 L477.71,471.81 L478.45,471.79 L479.20,471.78 L479.94,471.76 L480.69,471.75 L481.43,471.73 L482.17,471.71 L482.92,471.70 L483.66,471.68 L484.41,471.67 L485.15,471.65 L485.90,471.63 L486.64,471.61 L487.39,471.60 L488.13,471.58 L488.87,471.56 L489.62,471.54 L490.36,471.53 L491.11,471.51 L491.85,471.49 L492.60,471.47 L493.34,471.45 L494.09,471.43 L494.83,471.41 L495.58,471.40 L496.32,471.38 L497.06,471.36 L497.81,471.34 L498.55,471.32 L499.30,471.30 L500.04,471.28 L500.79,471.30 L501.53,471.31 L502.28,471.33 L503.02,471.35 L503.77,471.36 L504.51,471.38 L505.25,471.39 L506.00,471.41 L506.74,471.43 L507.49,471.44 L508.23,471.46 L508.98,471.47 L509.72,471.49 L510.47,471.50 L511.21,471.52 L511.96,471.53 L512.70,471.55 L513.45,471.56 L514.19,471.58 L514.93,471.59 L515.68,471.60 L516.42,471.62 L517.17,471.63 L517.91,471.65 L518.66,471.66 L519.40,471.67 L520.15,471.69 L520.89,471.70 L521.64,471.71 L522.38,471.73 L523.13,471.74 L523.87,471.75 L524.61,471.77 L525.36,471.78 L526.10,471.79 L526.85,471.80 L527.59,471.82 L528.34,471.83 L529.08,471.84 L529.83,471.85 L530.57,471.86 L531.32,471.88 L532.06,471.89 L532.81,471.90 L533.55,471.91 L534.30,471.92 L535.04,471.93 L535.78,471.94 L536.53,471.96 L537.27,471.97 L538.02,471.98 L538.76,471.99 L539.51,472.00 L540.25,472.01 L541.00,472.02 L541.74,472.03 L542.49,472.04 L543.23,472.05 L543.98,472.06 L544.72,472.07 L545.47,472.08 L546.21,472.09 L546.96,472.10 L547.70,472.11 L548.44,472.12 L549.19,472.13 L549.93,472.14 L550.68,472.15 L551.42,472.16 L552.17,472.17 L552.91,472.18 L553.66,472.18 L554.40,472.19 L555.15,472.20 L555.89,472.21 L556.64,472.22 L557.38,472.23 L558.13,472.24 L558.87,472.25 L559.62,472.25 L560.36,472.26 L561.11,472.27 L561.85,472.28 L562.59,472.29 L563.34,472.30 L564.08,472.30 L564.83,472.31 L565.57,472.32 L566.32,472.33 L567.06,472.33 L567.81,472.34 L568.55,472.35 L569.30,472.36 L570.04,472.36 L570.79,472.37 L571.53,472.38 L572.28,472.39 L573.02,472.39 L573.77,472.40 L574.51,472.41 L575.26,472.41 L576.00,472.42 L576.75,472.43 L577.49,472.44 L578.24,472.44 L578.98,472.45 L579.72,472.46 L580.47,472.46 L581.21,472.47 L581.96,472.48 L582.70,472.48 L583.45,472.49 L584.19,472.49 L584.94,472.50 L585.68,472.51 L586.43,472.51 L587.17,472.52 L587.92,472.52 L588.66,472.53 L589.41,472.54 L590.15,472.54 L590.90,472.55 L591.64,472.55 L592.39,472.56 L593.13,472.57 L593.88,472.57 L594.62,472.58 L595.37,472.58 L596.11,472.59 L596.86,472.59 L597.60,472.60 L598.35,472.60 L599.09,472.61 L599.83,472.61 L600.58,472.62 L601.32,472.62 L602.07,472.63 L602.81,472.63 L603.56,472.64 L604.30,472.64 L605.05,472.65 L605.79,472.65 L606.54,472.66 L607.28,472.66 L608.03,472.67 L608.77,472.67 L609.52,472.68 L610.26,472.68 L611.01,472.69 L611.75,472.69 L612.50,472.70 L613.24,472.70 L613.99,472.70 L614.73,472.71 L615.48,472.71 L616.22,472.72 L616.97,472.72 L617.71,472.73 L618.46,472.73 L619.20,472.73 L619.95,472.74 L620.69,472.74 L621.44,472.75 L622.18,472.75 L622.93,472.75 L623.67,472.76 L624.41,472.76 L625.16,472.77 L625.90,472.77 L626.65,472.77 L627.39,472.78 L628.14,472.78 L628.88,472.79 L629.63,472.79 L630.37,472.79 L631.12,472.80 L631.86,472.80 L632.61,472.80 L633.35,472.81 L634.10,472.81 L634.84,472.81 L635.59,472.82 L636.33,472.82 L637.08,472.82 L637.82,472.83 L638.57,472.83 L639.31,472.83 L640.06,472.84 L640.80,472.84 L641.55,472.84 L642.29,472.85 L643.04,472.85 L643.78,472.85 L644.53,472.86 L645.27,472.86 L646.02,472.86 L646.76,472.86 L647.51,472.87" fill="none" stroke="#d61414" stroke-width="3.8" stroke-dasharray="11.5 10.5" stroke-linecap="butt" stroke-linejoin="round"/>
<path d="M55.11,447.18 L55.45,445.85 L55.77,444.52 L56.09,443.18 L56.40,441.85 L56.71,440.51 L57.01,439.18 L57.30,437.84 L57.59,436.50 L57.87,435.16 L58.14,433.82 L58.41,432.47 L58.67,431.13 L58.92,429.79 L59.17,428.44 L59.41,427.09 L59.65,425.74 L59.88,424.39 L60.11,423.04 L60.33,421.69 L60.55,420.34 L60.76,418.99 L60.96,417.63 L61.16,416.28 L61.36,414.92 L61.55,413.57 L61.73,412.21 L61.91,410.85 L62.09,409.49 L62.26,408.13 L62.43,406.77 L62.59,405.41 L62.75,404.05 L62.91,402.69 L63.06,401.33 L63.21,399.96 L63.35,398.60 L63.49,397.23 L63.63,395.87 L63.76,394.50 L63.89,393.14 L64.02,391.77 L64.14,390.40 L64.26,389.04 L64.38,387.67 L64.50,386.30 L64.61,384.93 L64.72,383.56 L64.83,382.20 L64.93,380.83 L65.03,379.46 L65.13,378.09 L65.23,376.72 L65.33,375.35 L65.42,373.98 L65.51,372.61 L65.60,371.24 L65.69,369.87 L65.78,368.50 L65.86,367.12 L65.95,365.75 L66.03,364.38 L66.11,363.01 L66.20,361.64 L66.28,360.27 L66.35,358.90 L66.43,357.53 L66.51,356.16 L66.58,354.79 L66.66,353.42 L66.73,352.05 L66.81,350.68 L66.88,349.31 L66.95,347.94 L67.02,346.57 L67.09,345.20 L67.16,343.83 L67.23,342.46 L67.30,341.09 L67.36,339.72 L67.43,338.35 L67.50,336.98 L67.56,335.61 L67.63,334.24 L67.69,332.87 L67.75,331.50 L67.82,330.13 L67.88,328.76 L67.94,327.39 L68.00,326.02 L68.06,324.65 L68.12,323.28 L68.18,321.91 L68.24,320.54 L68.30,319.17 L68.36,317.80 L68.42,316.43 L68.48,315.07 L68.53,313.70 L68.59,312.33 L68.65,310.96 L68.71,309.59 L68.76,308.22 L68.82,306.85 L68.88,305.48 L68.93,304.11 L68.99,302.74 L69.05,301.37 L69.10,300.00 L69.16,298.63 L69.22,297.26 L69.27,295.89 L69.33,294.52 L69.38,293.15 L69.44,291.78 L69.50,290.41 L69.55,289.04 L69.61,287.67 L69.67,286.30 L69.72,284.93 L69.78,283.56 L69.84,282.19 L69.90,280.82 L69.95,279.45 L70.01,278.08 L70.07,276.71 L70.13,275.34 L70.19,273.97 L70.25,272.60 L70.31,271.23 L70.36,269.86 L70.42,268.49 L70.48,267.12 L70.54,265.75 L70.60,264.38 L70.66,263.01 L70.72,261.64 L70.78,260.27 L70.85,258.90 L70.91,257.53 L70.97,256.15 L71.03,254.78 L71.09,253.41 L71.15,252.04 L71.21,250.67 L71.28,249.30 L71.34,247.93 L71.40,246.56 L71.46,245.19 L71.53,243.82 L71.59,242.45 L71.65,241.08 L71.72,239.71 L71.78,238.34 L71.85,236.97 L71.91,235.60 L71.98,234.23 L72.04,232.86 L72.11,231.48 L72.17,230.11 L72.24,228.74 L72.30,227.37 L72.37,226.00 L72.43,224.63 L72.50,223.26 L72.57,221.89 L72.63,220.52 L72.70,219.15 L72.77,217.78 L72.84,216.41 L72.90,215.04 L72.97,213.67 L73.04,212.30 L73.11,210.93 L73.18,209.56 L73.25,208.19 L73.32,206.82 L73.39,205.45 L73.45,204.08 L73.52,202.71 L73.59,201.34 L73.67,199.97 L73.74,198.59 L73.81,197.22 L73.88,195.85 L73.95,194.48 L74.02,193.11 L74.09,191.74 L74.17,190.37 L74.24,189.00 L74.31,187.63 L74.38,186.26 L74.46,184.90 L74.53,183.53 L74.60,182.16 L74.68,180.79 L74.75,179.42 L74.83,178.05 L74.90,176.68 L74.98,175.31 L75.05,173.94 L75.13,172.57 L75.20,171.20 L75.28,169.83 L75.35,168.46 L75.43,167.09 L75.51,165.72 L75.58,164.35 L75.66,162.98 L75.74,161.61 L75.82,160.25 L75.90,158.88 L75.97,157.51 L76.05,156.14 L76.13,154.77 L76.21,153.40 L76.29,152.03 L76.37,150.66 L76.45,149.30 L76.53,147.93 L76.61,146.56 L76.69,145.19 L76.77,143.82 L76.86,142.45 L76.94,141.09 L77.02,139.72 L77.10,138.35 L77.18,136.98 L77.27,135.61 L77.35,134.25 L77.43,132.88 L77.52,131.51 L77.60,130.14 L77.69,128.78 L77.77,127.41 L77.86,126.04 L77.94,124.67 L78.03,123.31 L78.12,121.94 L78.20,120.57 L78.29,119.20 L78.38,117.84 L78.47,116.47 L78.57,115.10 L78.66,113.73 L78.75,112.37 L78.85,111.00 L78.94,109.63 L79.04,108.26 L79.14,106.90 L79.24,105.53 L79.34,104.16 L79.44,102.79 L79.55,101.42 L79.66,100.05 L79.76,98.68 L79.87,97.31 L79.99,95.95 L80.10,94.58 L80.21,93.21 L80.33,91.84 L80.45,90.47 L80.57,89.09 L80.70,87.72 L80.82,86.35 L80.95,84.98 L81.08,83.61 L81.22,82.24 L81.35,80.86 L81.49,79.49 L81.63,78.12 L81.78,76.75 L81.93,75.38 L82.08,74.02 L82.24,72.65 L82.41,71.29 L82.57,69.93 L82.75,68.58 L82.93,67.22 L83.11,65.88 L83.31,64.53 L83.50,63.20 L83.71,61.87 L83.92,60.54 L84.15,59.22 L84.37,57.91 L84.62,56.59 L84.87,55.28 L85.15,53.96 L85.45,52.63 L85.78,51.28 L86.14,49.90 L86.53,48.50 L86.97,47.07 L87.46,45.63 L88.09,44.35 L88.96,43.45 L90.15,43.12 L91.40,43.48 L92.41,44.36 L93.19,45.53 L93.80,46.87 L94.31,48.27 L94.78,49.62 L95.23,50.91 L95.67,52.19 L96.10,53.47 L96.53,54.76 L96.94,56.05 L97.35,57.34 L97.75,58.64 L98.15,59.94 L98.53,61.24 L98.91,62.55 L99.28,63.86 L99.65,65.18 L100.01,66.49 L100.37,67.81 L100.72,69.13 L101.06,70.45 L101.40,71.78 L101.73,73.11 L102.06,74.44 L102.39,75.77 L102.71,77.10 L103.03,78.44 L103.35,79.77 L103.66,81.11 L103.97,82.45 L104.28,83.78 L104.58,85.12 L104.89,86.47 L105.19,87.81 L105.49,89.15 L105.79,90.49 L106.09,91.83 L106.39,93.17 L106.69,94.52 L106.99,95.86 L107.29,97.20 L107.59,98.54 L107.89,99.88 L108.19,101.22 L108.49,102.56 L108.79,103.90 L109.09,105.24 L109.39,106.58 L109.70,107.92 L110.00,109.26 L110.30,110.60 L110.61,111.94 L110.91,113.28 L111.21,114.61 L111.52,115.95 L111.83,117.29 L112.13,118.63 L112.44,119.96 L112.75,121.30 L113.05,122.64 L113.36,123.97 L113.67,125.31 L113.98,126.64 L114.29,127.98 L114.60,129.32 L114.92,130.65 L115.23,131.98 L115.54,133.32 L115.86,134.65 L116.17,135.99 L116.49,137.32 L116.80,138.66 L117.12,139.99 L117.44,141.32 L117.75,142.65 L118.07,143.99 L118.39,145.32 L118.72,146.65 L119.04,147.98 L119.36,149.32 L119.68,150.65 L120.01,151.98 L120.33,153.31 L120.66,154.64 L120.99,155.97 L121.32,157.30 L121.65,158.63 L121.98,159.96 L122.31,161.29 L122.64,162.62 L122.97,163.95 L123.31,165.28 L123.64,166.61 L123.98,167.94 L124.32,169.27 L124.66,170.60 L125.00,171.92 L125.34,173.25 L125.68,174.58 L126.02,175.91 L126.36,177.24 L126.71,178.56 L127.05,179.89 L127.40,181.22 L127.75,182.54 L128.09,183.87 L128.44,185.19 L128.79,186.52 L129.14,187.85 L129.50,189.17 L129.85,190.50 L130.20,191.82 L130.56,193.15 L130.91,194.47 L131.27,195.80 L131.63,197.12 L131.99,198.44 L132.35,199.77 L132.71,201.09 L133.07,202.41 L133.43,203.74 L133.80,205.06 L134.16,206.38 L134.53,207.70 L134.89,209.03 L135.26,210.35 L135.63,211.67 L136.00,212.99 L136.37,214.31 L136.74,215.63 L137.12,216.95 L137.49,218.27 L137.86,219.59 L138.24,220.91 L138.62,222.23 L138.99,223.55 L139.37,224.87 L139.75,226.19 L140.13,227.51 L140.51,228.83 L140.90,230.15 L141.28,231.46 L141.66,232.78 L142.05,234.10 L142.44,235.42 L142.82,236.73 L143.21,238.05 L143.60,239.37 L143.99,240.68 L144.39,242.00 L144.78,243.31 L145.17,244.63 L145.57,245.94 L145.97,247.26 L146.37,248.57 L146.77,249.88 L147.17,251.20 L147.58,252.51 L147.98,253.82 L148.39,255.13 L148.80,256.44 L149.22,257.75 L149.63,259.06 L150.05,260.36 L150.47,261.67 L150.89,262.98 L151.31,264.28 L151.74,265.59 L152.16,266.89 L152.59,268.19 L153.03,269.49 L153.46,270.79 L153.90,272.09 L154.34,273.39 L154.79,274.69 L155.23,275.98 L155.68,277.28 L156.14,278.57 L156.59,279.87 L157.05,281.16 L157.51,282.45 L157.98,283.74 L158.44,285.03 L158.92,286.31 L159.39,287.60 L159.87,288.88 L160.35,290.17 L160.84,291.45 L161.32,292.73 L161.82,294.01 L162.31,295.28 L162.81,296.56 L163.32,297.83 L163.82,299.10 L164.34,300.37 L164.85,301.64 L165.37,302.91 L165.90,304.18 L166.42,305.44 L166.96,306.70 L167.49,307.96 L168.03,309.22 L168.58,310.48 L169.13,311.74 L169.68,312.99 L170.24,314.24 L170.80,315.49 L171.37,316.74 L171.94,317.98 L172.52,319.23 L173.10,320.47 L173.69,321.71 L174.28,322.95 L174.87,324.18 L175.47,325.42 L176.08,326.65 L176.69,327.88 L177.30,329.10 L177.92,330.33 L178.54,331.55 L179.17,332.77 L179.80,333.99 L180.44,335.20 L181.08,336.41 L181.72,337.62 L182.38,338.83 L183.03,340.03 L183.69,341.24 L184.36,342.44 L185.03,343.63 L185.70,344.83 L186.38,346.02 L187.06,347.21 L187.75,348.40 L188.45,349.58 L189.15,350.76 L189.85,351.94 L190.56,353.11 L191.27,354.28 L191.99,355.45 L192.71,356.62 L193.44,357.78 L194.17,358.94 L194.91,360.10 L195.65,361.25 L196.40,362.40 L197.15,363.55 L197.91,364.70 L198.67,365.84 L199.44,366.98 L200.21,368.11 L200.99,369.24 L201.77,370.37 L202.56,371.50 L203.35,372.62 L204.15,373.73 L204.95,374.85 L205.76,375.96 L206.57,377.07 L207.39,378.17 L208.21,379.27 L209.04,380.37 L209.87,381.46 L210.71,382.55 L211.56,383.64 L212.40,384.72 L213.26,385.80 L214.12,386.87 L214.98,387.94 L215.85,389.01 L216.72,390.07 L217.60,391.13 L218.49,392.18 L219.38,393.23 L220.28,394.28 L221.18,395.32 L222.08,396.35 L223.00,397.38 L223.92,398.41 L224.84,399.43 L225.77,400.44 L226.70,401.45 L227.64,402.45 L228.59,403.44 L229.54,404.43 L230.50,405.42 L231.47,406.39 L232.44,407.36 L233.42,408.32 L234.40,409.28 L235.39,410.23 L236.38,411.17 L237.38,412.10 L238.39,413.03 L239.40,413.95 L240.42,414.86 L241.45,415.76 L242.48,416.65 L243.52,417.54 L244.57,418.41 L245.62,419.28 L246.68,420.14 L247.75,420.99 L248.82,421.83 L249.90,422.66 L250.99,423.48 L252.08,424.29 L253.18,425.09 L254.29,425.89 L255.40,426.67 L256.52,427.44 L257.65,428.20 L258.78,428.95 L259.93,429.69 L261.08,430.42 L262.23,431.13 L263.40,431.84 L264.57,432.54 L265.75,433.22 L266.93,433.89 L268.13,434.55 L269.33,435.20 L270.53,435.84 L271.74,436.47 L272.96,437.08 L274.19,437.69 L275.42,438.29 L276.66,438.87 L277.90,439.45 L279.15,440.01 L280.40,440.57 L281.66,441.12 L282.93,441.66 L284.20,442.19 L285.47,442.71 L286.75,443.22 L288.03,443.72 L289.32,444.21 L290.61,444.70 L291.90,445.18 L293.20,445.65 L294.50,446.11 L295.81,446.56 L297.12,447.01 L298.43,447.45 L299.74,447.88 L301.06,448.31 L302.38,448.73 L303.70,449.14 L305.03,449.54 L306.35,449.94 L307.68,450.34 L309.01,450.72 L310.34,451.10 L311.67,451.48 L313.01,451.85 L314.34,452.21 L315.68,452.57 L317.02,452.93 L318.35,453.28 L319.69,453.62 L321.03,453.96 L322.37,454.30 L323.70,454.63 L325.04,454.95 L326.38,455.27 L327.72,455.59 L329.06,455.90 L330.40,456.21 L331.74,456.52 L333.08,456.82 L334.42,457.11 L335.76,457.40 L337.11,457.69 L338.45,457.97 L339.79,458.25 L341.13,458.53 L342.48,458.80 L343.82,459.06 L345.17,459.32 L346.51,459.58 L347.85,459.83 L349.20,460.08 L350.55,460.33 L351.89,460.57 L353.24,460.81 L354.59,461.04 L355.93,461.27 L357.28,461.50 L358.63,461.72 L359.98,461.94 L361.33,462.15 L362.68,462.37 L364.03,462.57 L365.38,462.78 L366.73,462.98 L368.09,463.17 L369.44,463.36 L370.79,463.55 L372.15,463.74 L373.50,463.92 L374.86,464.10 L376.21,464.28 L377.57,464.45 L378.92,464.62 L380.28,464.78 L381.64,464.94 L383.00,465.10 L384.36,465.26 L385.71,465.41 L387.07,465.56 L388.43,465.70 L389.80,465.85 L391.16,465.99 L392.52,466.12 L393.88,466.26 L395.24,466.39 L396.61,466.52 L397.97,466.64 L399.33,466.77 L400.70,466.89 L402.06,467.00 L403.43,467.12 L404.79,467.23 L406.16,467.34 L407.52,467.45 L408.89,467.55 L410.26,467.65 L411.62,467.74 L412.99,467.82 L414.36,467.91 L415.73,467.98 L417.09,468.06 L418.46,468.13 L419.83,468.21 L421.20,468.29 L422.57,468.37 L423.94,468.45 L425.31,468.52 L426.68,468.60 L428.05,468.67 L429.42,468.75 L430.79,468.82 L432.16,468.89 L433.53,468.96 L434.90,469.03 L436.28,469.10 L437.65,469.16 L439.02,469.23 L440.39,469.29 L441.76,469.36 L443.14,469.42 L444.51,469.48 L445.88,469.54 L447.25,469.60 L448.63,469.66 L450.00,469.71 L451.37,469.77 L452.74,469.83 L454.12,469.88 L455.49,469.94 L456.86,469.99 L458.23,470.04 L459.61,470.09 L460.98,470.14 L462.35,470.19 L463.73,470.24 L465.10,470.29 L466.47,470.34 L467.85,470.38 L469.22,470.43 L470.59,470.47 L471.96,470.52 L473.34,470.56 L474.71,470.60 L476.08,470.64 L477.45,470.69 L478.83,470.73 L480.20,470.77 L481.57,470.81 L482.94,470.85 L484.31,470.88 L485.69,470.92 L487.06,470.96 L488.43,470.99 L489.80,471.03 L491.17,471.06 L492.55,471.10 L493.92,471.13 L495.29,471.17 L496.66,471.20 L498.03,471.23 L499.40,471.26 L500.77,471.30 L502.15,471.33 L503.52,471.36 L504.89,471.39 L506.26,471.42 L507.63,471.44 L509.00,471.47 L510.37,471.50 L511.74,471.53 L513.11,471.56 L514.49,471.58 L515.86,471.61 L517.23,471.63 L518.60,471.66 L519.97,471.68 L521.34,471.71 L522.71,471.73 L524.08,471.76 L525.45,471.78 L526.82,471.80 L528.19,471.83 L529.56,471.85 L530.93,471.87 L532.30,471.89 L533.68,471.91 L535.05,471.93 L536.42,471.95 L537.79,471.97 L539.16,471.99 L540.53,472.01 L541.90,472.03 L543.27,472.05 L544.64,472.07 L546.01,472.09 L547.38,472.11 L548.75,472.12 L550.12,472.14 L551.49,472.16 L552.86,472.18 L554.23,472.19 L555.60,472.21 L556.97,472.22 L558.34,472.24 L559.72,472.26 L561.09,472.27 L562.46,472.29 L563.83,472.30 L565.20,472.32 L566.57,472.33 L567.94,472.34 L569.31,472.36 L570.68,472.37 L572.05,472.38 L573.42,472.40 L574.79,472.41 L576.16,472.42 L577.53,472.44 L578.91,472.45 L580.28,472.46 L581.65,472.47 L583.02,472.48 L584.39,472.50 L585.76,472.51 L587.13,472.52 L588.50,472.53 L589.87,472.54 L591.25,472.55 L592.62,472.56 L593.99,472.57 L595.36,472.58 L596.73,472.59 L598.10,472.60 L599.47,472.61 L600.85,472.62 L602.22,472.63 L603.59,472.64 L604.96,472.65 L606.33,472.66 L607.71,472.67 L609.08,472.68 L610.45,472.68 L611.82,472.69 L613.19,472.70 L614.57,472.71 L615.94,472.72 L617.31,472.72 L618.68,472.73 L620.06,472.74 L621.43,472.75 L622.80,472.75 L624.17,472.76 L625.55,472.77 L626.92,472.78 L628.29,472.78 L629.67,472.79 L631.04,472.80 L632.41,472.80 L633.79,472.81 L635.16,472.82 L636.53,472.82 L637.91,472.83 L639.28,472.83 L640.66,472.84 L642.03,472.85 L643.40,472.85 L644.78,472.86 L646.15,472.86 L647.53,472.87" fill="none" stroke="#000000" stroke-width="4.0" stroke-linecap="butt" stroke-linejoin="round"/>
</g>
<g fill="#262626" font-size="18" stroke="#262626" stroke-width="0.35">
<text x="54.30" y="499" text-anchor="middle">0</text>
<text x="153.08" y="499" text-anchor="middle">100</text>
<text x="251.87" y="499" text-anchor="middle">200</text>
<text x="350.65" y="499" text-anchor="middle">300</text>
<text x="449.43" y="499" text-anchor="middle">400</text>
<text x="548.22" y="499" text-anchor="middle">500</text>
<text x="647.00" y="499" text-anchor="middle">600</text>
<text x="46.5" y="480.70" text-anchor="end">0</text>
<text x="46.5" y="413.87" text-anchor="end">5</text>
<text x="46.5" y="347.04" text-anchor="end">10</text>
<text x="46.5" y="280.21" text-anchor="end">15</text>
<text x="46.5" y="213.39" text-anchor="end">20</text>
<text x="46.5" y="146.56" text-anchor="end">25</text>
<text x="46.5" y="79.73" text-anchor="end">30</text>
<text x="46.5" y="12.90" text-anchor="end">35</text>
</g>
<text x="349.5" y="523.6" text-anchor="middle" font-size="20.45" fill="#262626" stroke="#262626" stroke-width="0.35">Time(Days)</text>
<text transform="translate(16.3,240) rotate(-90)" text-anchor="middle" font-size="20.45" fill="#262626" stroke="#262626" stroke-width="0.35">Quarantine population (in millions)</text>
<rect x="451.6" y="23.2" width="177.6" height="119.8" fill="#fff" stroke="#262626" stroke-width="1.5"/>
<g fill="#000" stroke="#000" stroke-width="0.35">
<line x1="462" y1="40.7" x2="517.5" y2="40.7" stroke="#000096" stroke-width="3.8" stroke-dasharray="11 3 5.5 3"/>
<text x="523" y="44.1" font-size="16.3">Q<tspan font-size="12.7" dy="7.8">0</tspan><tspan dy="-7.8" dx="2">=0.000002</tspan></text>
<line x1="462" y1="69.0" x2="514.9" y2="69.0" stroke="#1ea51e" stroke-width="3.8" stroke-dasharray="3.3 2.2"/>
<text x="523" y="72.4" font-size="16.3">Q<tspan font-size="12.7" dy="7.8">0</tspan><tspan dy="-7.8" dx="2">=0.00002</tspan></text>
<line x1="462" y1="97.3" x2="517.5" y2="97.3" stroke="#d61414" stroke-width="3.8" stroke-dasharray="11.5 10.5"/>
<text x="523" y="100.7" font-size="16.3">Q<tspan font-size="12.7" dy="7.8">0</tspan><tspan dy="-7.8" dx="2">=0.042</tspan></text>
<line x1="460.5" y1="126.0" x2="519.1" y2="126.0" stroke="#000000" stroke-width="3.8"/>
<text x="523" y="129.4" font-size="16.3">Q<tspan font-size="12.7" dy="7.8">0</tspan><tspan dy="-7.8" dx="2">=2.000002</tspan></text>
</g>
</svg>
</body></html>
